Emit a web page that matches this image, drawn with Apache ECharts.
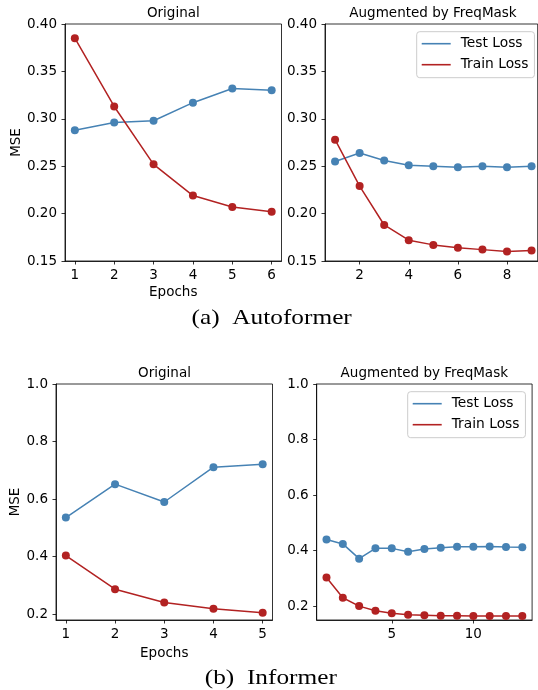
<!DOCTYPE html>
<html>
<head>
<meta charset="utf-8">
<script src="https://cdn.jsdelivr.net/npm/echarts@6/dist/echarts.min.js"></script>
<style>
html,body{margin:0;padding:0;background:#fff;}
#chart{width:538px;height:690px;}
</style>
</head>
<body>
<div id="chart"></div>
<script>
// ---- data ----
const epochsAOrig = [1, 2, 3, 4, 5, 6];
const aOrigTest  = [0.288, 0.296, 0.298, 0.317, 0.332, 0.330];
const aOrigTrain = [0.385, 0.313, 0.252, 0.219, 0.207, 0.202];

const epochsAAug = [1, 2, 3, 4, 5, 6, 7, 8, 9];
const aAugTest  = [0.255, 0.264, 0.256, 0.251, 0.250, 0.249, 0.250, 0.249, 0.250];
const aAugTrain = [0.278, 0.229, 0.188, 0.172, 0.167, 0.164, 0.162, 0.160, 0.161];

const epochsIOrig = [1, 2, 3, 4, 5];
const iOrigTest  = [0.536, 0.652, 0.590, 0.711, 0.721];
const iOrigTrain = [0.404, 0.287, 0.241, 0.219, 0.205];

const epochsIAug = [1, 2, 3, 4, 5, 6, 7, 8, 9, 10, 11, 12, 13];
const iAugTest  = [0.440, 0.424, 0.371, 0.408, 0.408, 0.396, 0.406, 0.410, 0.414, 0.414, 0.415, 0.413, 0.412];
const iAugTrain = [0.303, 0.230, 0.200, 0.183, 0.174, 0.169, 0.167, 0.165, 0.165, 0.164, 0.164, 0.164, 0.164];

const xTicksAOrig = [1, 2, 3, 4, 5, 6];
const xTicksAAug = [2, 4, 6, 8];
const xTicksIOrig = [1, 2, 3, 4, 5];
const xTicksIAug = [5, 10];
const yTicksA = [0.15, 0.20, 0.25, 0.30, 0.35, 0.40];
const yTicksI = [0.2, 0.4, 0.6, 0.8, 1.0];

const subTitles = ['Original', 'Augmented by FreqMask'];
const captions = ['(a)  Autoformer', '(b)  Informer'];
const legendNames = ['Test Loss', 'Train Loss'];

// ---- styles ----
const BLUE = '#4682B4';
const RED = '#B22222';
const FONT = 'DejaVu Sans';
const FS = 13.5;

const zip = (xs, ys) => xs.map((x, i) => [x, ys[i]]);

const grids = [
  {left: 65, top: 24, width: 216.5, height: 237},
  {left: 325, top: 24, width: 212.7, height: 237},
  {left: 56, top: 384, width: 216.5, height: 236},
  {left: 316.7, top: 384, width: 215.4, height: 236}
].map(g => Object.assign({show: true, borderColor: '#000', borderWidth: 0.8, backgroundColor: 'transparent'}, g));

function xAxis(gi, min, max, ticks, name, gap) {
  return {
    type: 'value', gridIndex: gi, min: min, max: max,
    name: name || '', nameLocation: 'middle', nameGap: gap || 24,
    nameTextStyle: {fontFamily: FONT, fontSize: FS, color: '#000'},
    axisLine: {show: true, lineStyle: {color: '#000', width: 0.8}},
    axisTick: {show: true, inside: false, length: 3.5, lineStyle: {color: '#000', width: 0.8}, customValues: ticks},
    axisLabel: {show: true, margin: 7, fontFamily: FONT, fontSize: FS, color: '#000', customValues: ticks, formatter: v => String(v)},
    splitLine: {show: false}
  };
}
function yAxis(gi, min, max, ticks, dec, name, gap) {
  return {
    type: 'value', gridIndex: gi, min: min, max: max,
    name: name || '', nameLocation: 'middle', nameGap: gap || 40, nameRotate: 90,
    nameTextStyle: {fontFamily: FONT, fontSize: FS, color: '#000'},
    axisLine: {show: true, lineStyle: {color: '#000', width: 0.8}},
    axisTick: {show: true, inside: false, length: 3.5, lineStyle: {color: '#000', width: 0.8}, customValues: ticks},
    axisLabel: {show: true, margin: 8, fontFamily: FONT, fontSize: FS, color: '#000', customValues: ticks, formatter: v => Number(v).toFixed(dec)},
    splitLine: {show: false}
  };
}
function line(name, gi, data, color) {
  return {
    type: 'line', name: name, xAxisIndex: gi, yAxisIndex: gi, data: data,
    symbol: 'circle', symbolSize: 8, showSymbol: true,
    lineStyle: {color: color, width: 1.5},
    itemStyle: {color: color},
    emphasis: {disabled: true}, animation: false
  };
}
function legend(left, top) {
  return {
    orient: 'vertical', left: left, top: top,
    data: legendNames.map(n => ({name: n, icon: 'rect'})),
    itemWidth: 29, itemHeight: 1.6, itemGap: 7,
    padding: [5, 6, 6, 5],
    backgroundColor: 'rgba(255,255,255,0.8)',
    borderColor: '#cccccc', borderWidth: 1, borderRadius: 3,
    textStyle: {fontFamily: FONT, fontSize: 13.8, color: '#000', padding: [0, 0, 0, 5]},
    selectedMode: false
  };
}
function gtext(x, y, text, font, sx) {
  return {type: 'text', x: x, y: y, scaleX: sx || 1,
    style: {text: text, font: font, fill: '#000', textAlign: 'center', textVerticalAlign: 'middle'}};
}

const chart = echarts.init(document.getElementById('chart'), null, {renderer: 'canvas'});
chart.setOption({
  animation: false,
  backgroundColor: '#fff',
  grid: grids,
  xAxis: [
    xAxis(0, 0.75, 6.25, xTicksAOrig, 'Epochs', 24),
    xAxis(1, 0.59, 9.25, xTicksAAug),
    xAxis(2, 0.8, 5.2, xTicksIOrig, 'Epochs', 26),
    xAxis(3, 0.4, 13.6, xTicksIAug)
  ],
  yAxis: [
    yAxis(0, 0.15, 0.40, yTicksA, 2, 'MSE', 42),
    yAxis(1, 0.15, 0.40, yTicksA, 2),
    yAxis(2, 0.18, 1.0, yTicksI, 1, 'MSE', 34),
    yAxis(3, 0.15, 1.0, yTicksI, 1)
  ],
  legend: [legend(416.7, 31.7), legend(407.7, 391.7)],
  series: [
    line(legendNames[0], 0, zip(epochsAOrig, aOrigTest), BLUE),
    line(legendNames[1], 0, zip(epochsAOrig, aOrigTrain), RED),
    line(legendNames[0], 1, zip(epochsAAug, aAugTest), BLUE),
    line(legendNames[1], 1, zip(epochsAAug, aAugTrain), RED),
    line(legendNames[0], 2, zip(epochsIOrig, iOrigTest), BLUE),
    line(legendNames[1], 2, zip(epochsIOrig, iOrigTrain), RED),
    line(legendNames[0], 3, zip(epochsIAug, iAugTest), BLUE),
    line(legendNames[1], 3, zip(epochsIAug, iAugTrain), RED)
  ],
  graphic: [
    gtext(173.3, 13.3, subTitles[0], FS + 'px "DejaVu Sans"'),
    gtext(433, 13.3, subTitles[1], FS + 'px "DejaVu Sans"'),
    gtext(164.5, 373.3, subTitles[0], FS + 'px "DejaVu Sans"'),
    gtext(424.3, 373.3, subTitles[1], FS + 'px "DejaVu Sans"'),
    gtext(271.7, 318.3, captions[0], '22px "Liberation Serif"', 1.15),
    gtext(270.8, 678.5, captions[1], '22px "Liberation Serif"', 1.15)
  ]
});
</script>
</body>
</html>
